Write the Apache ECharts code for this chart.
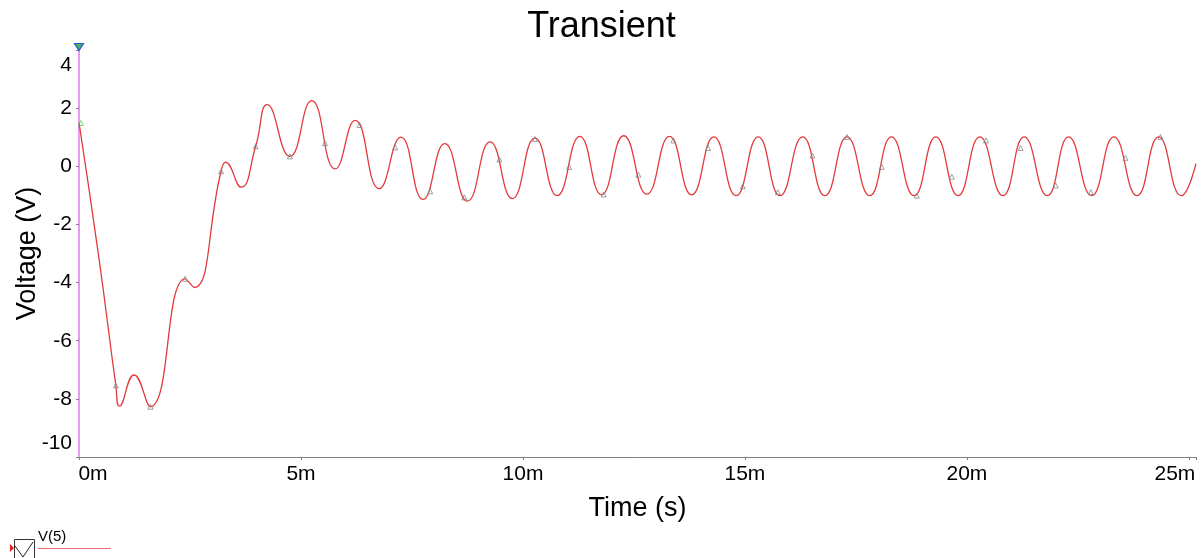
<!DOCTYPE html>
<html>
<head>
<meta charset="utf-8">
<script src="https://cdn.jsdelivr.net/npm/echarts@6/dist/echarts.min.js"></script>
<style>
html,body{margin:0;padding:0;background:#fff;}
#chart{width:1203px;height:558px;}
</style>
</head>
<body>
<div id="chart"></div>
<script>
// ---- Data (time in ms, voltage in V) ----
const timeMs = [
  0, 0.45, 0.83, 0.91, 1.24, 1.61, 2.39, 2.60, 3.20, 3.30, 3.65, 3.98, 4.24, 4.75,
  5.24, 5.77, 6.22, 6.76, 7.25, 7.75, 8.24, 8.75, 9.26, 9.76, 10.27, 10.77, 11.28, 11.77,
  12.27, 12.79, 13.30, 13.80, 14.30, 14.80, 15.30, 15.79, 16.30, 16.80, 17.30, 17.81,
  18.30, 18.81, 19.30, 19.80, 20.29, 20.81, 21.29, 21.81, 22.29, 22.81, 23.31, 23.83,
  24.32, 24.83, 25.16
];
const voltage = [
  1.50, -3.17, -7.54, -8.25, -7.18, -8.27, -3.87, -4.17, -0.17, 0.14, -0.72, 0.69, 2.12, 0.34,
  2.26, -0.09, 1.58, -0.77, 1.00, -1.14, 0.78, -1.20, 0.84, -1.11, 0.97, -1.01, 1.03, -0.98,
  1.05, -0.96, 1.03, -0.98, 1.01, -1.01, 1.01, -1.01, 1.01, -1.01, 1.01, -1.01,
  1.01, -1.01, 1.01, -1.01, 1.01, -1.01, 1.01, -1.01, 1.01, -1.01, 1.01, -1.01,
  1.01, -1.01, 0.09
];
const markerTimeMs = [
  0.04, 0.83, 1.61, 2.39, 3.20, 3.98, 4.75, 5.54, 6.32, 7.12, 7.91, 8.68, 9.47, 10.27,
  11.04, 11.82, 12.60, 13.39, 14.17, 14.95, 15.74, 16.52, 17.30, 18.08, 18.87, 19.66,
  20.43, 21.21, 22.00, 22.79, 23.57, 24.36
];
const markerVoltage = [
  1.49, -7.54, -8.27, -3.87, -0.17, 0.69, 0.34, 0.79, 1.42, 0.65, -0.86, -1.07, 0.23, 0.94,
  -0.02, -0.97, -0.29, 0.89, 0.63, -0.69, -0.89, 0.37, 1.01, -0.02, -1.01, -0.36,
  0.89, 0.63, -0.66, -0.89, 0.29, 1.01
];
const xTickLabels = ['0m', '5m', '10m', '15m', '20m', '25m'];
const yTickLabels = ['-10', '-8', '-6', '-4', '-2', '0', '2', '4'];
const seriesName = 'V(5)';

const FONT = "'Liberation Sans', Arial, sans-serif";
const lineData = timeMs.map((t, i) => [t, voltage[i]]);
const markerData = markerTimeMs.map((t, i) => ({
  value: [t, markerVoltage[i]],
  itemStyle: i === 0 ? { color: 'rgba(0,0,0,0)', borderColor: '#55cc55' } : undefined
}));

const chart = echarts.init(document.getElementById('chart'), null, { renderer: 'canvas' });
chart.setOption({
  animation: false,
  backgroundColor: '#ffffff',
  title: {
    text: 'Transient',
    left: 'center',
    top: 4,
    textStyle: { fontFamily: FONT, fontSize: 36, fontWeight: 'normal', color: '#000' }
  },
  grid: { left: 79, right: 7, top: 50, bottom: 101, containLabel: false, outerBoundsMode: 'none' },
  xAxis: {
    type: 'value',
    min: 0,
    max: 25.16,
    interval: 5,
    name: 'Time (s)',
    nameLocation: 'middle',
    nameGap: 38,
    nameMoveOverlap: false,
    nameTextStyle: { fontFamily: FONT, fontSize: 27, color: '#000' },
    axisLine: { show: true, onZero: false, lineStyle: { color: '#808080', width: 1 } },
    axisTick: { show: true, length: 3, lineStyle: { color: '#808080' } },
    splitLine: { show: false },
    axisLabel: {
      fontFamily: FONT, fontSize: 21, color: '#000', margin: 7,
      showMaxLabel: true,
      formatter: function (v) {
        const k = Math.round(v / 5);
        if (Math.abs(v - k * 5) > 1e-6) return '';
        const s = xTickLabels[k];
        if (k === 0) return '{l|' + s + '}';
        if (k === xTickLabels.length - 1) return '{r|' + s + '}';
        return s;
      },
      rich: {
        l: { fontFamily: FONT, fontSize: 21, color: '#000', padding: [0, 0, 0, 28] },
        r: { fontFamily: FONT, fontSize: 21, color: '#000', padding: [0, 28, 0, 0] }
      }
    }
  },
  yAxis: {
    type: 'value',
    min: -10,
    max: 4,
    interval: 2,
    name: 'Voltage (V)',
    nameLocation: 'middle',
    nameGap: 38,
    nameMoveOverlap: false,
    nameTextStyle: { fontFamily: FONT, fontSize: 27, color: '#000' },
    axisLine: { show: true, onZero: false, lineStyle: { color: '#e07cf0', width: 1.5 } },
    axisTick: { show: true, length: 3, lineStyle: { color: '#808080' } },
    splitLine: { show: false },
    axisLabel: {
      fontFamily: FONT, fontSize: 21, color: '#000', margin: 7,
      formatter: function (v) {
        const k = Math.round((v + 10) / 2);
        const s = yTickLabels[k];
        if (k === yTickLabels.length - 1) return '{t|' + s + '}';
        if (k === 0) return '{b|' + s + '}';
        return s;
      },
      rich: {
        t: { fontFamily: FONT, fontSize: 21, color: '#000', padding: [30, 0, 0, 0] },
        b: { fontFamily: FONT, fontSize: 21, color: '#000', padding: [0, 0, 27, 0] }
      }
    }
  },
  series: [
    {
      name: seriesName,
      type: 'line',
      data: lineData,
      smooth: 0.5,
      showSymbol: false,
      symbol: 'none',
      lineStyle: { color: '#e23a3a', width: 1.3 },
      z: 2,
      markPoint: {
        symbol: 'triangle',
        symbolRotate: 180,
        symbolSize: [9, 7],
        symbolOffset: [0, -3],
        label: { show: false },
        itemStyle: { color: '#44bb44', borderColor: '#3355dd', borderWidth: 1.2 },
        data: [{ coord: [0, 4] }]
      }
    },
    {
      name: 'markers',
      type: 'scatter',
      data: markerData,
      symbol: 'triangle',
      symbolSize: 5,
      itemStyle: { color: 'rgba(0,0,0,0)', borderColor: '#888888', borderWidth: 1 },
      z: 3
    }
  ],
  graphic: [
    { type: 'polygon', shape: { points: [[10, 544], [14, 548], [10, 552]] }, style: { fill: '#e02020' } },
    { type: 'rect', shape: { x: 14.5, y: 539.5, width: 20, height: 22 }, style: { fill: '#fff', stroke: '#333', lineWidth: 1 } },
    { type: 'polyline', shape: { points: [[15, 546], [23, 557], [33, 542]] }, style: { stroke: '#222', lineWidth: 1, fill: null } },
    { type: 'text', left: 38, top: 529, style: { text: seriesName, font: "15px 'Liberation Sans', Arial, sans-serif", fill: '#000' } },
    { type: 'line', shape: { x1: 38, y1: 548.5, x2: 111, y2: 548.5 }, style: { stroke: '#e86a6a', lineWidth: 1.2 } }
  ]
});
</script>
</body>
</html>
